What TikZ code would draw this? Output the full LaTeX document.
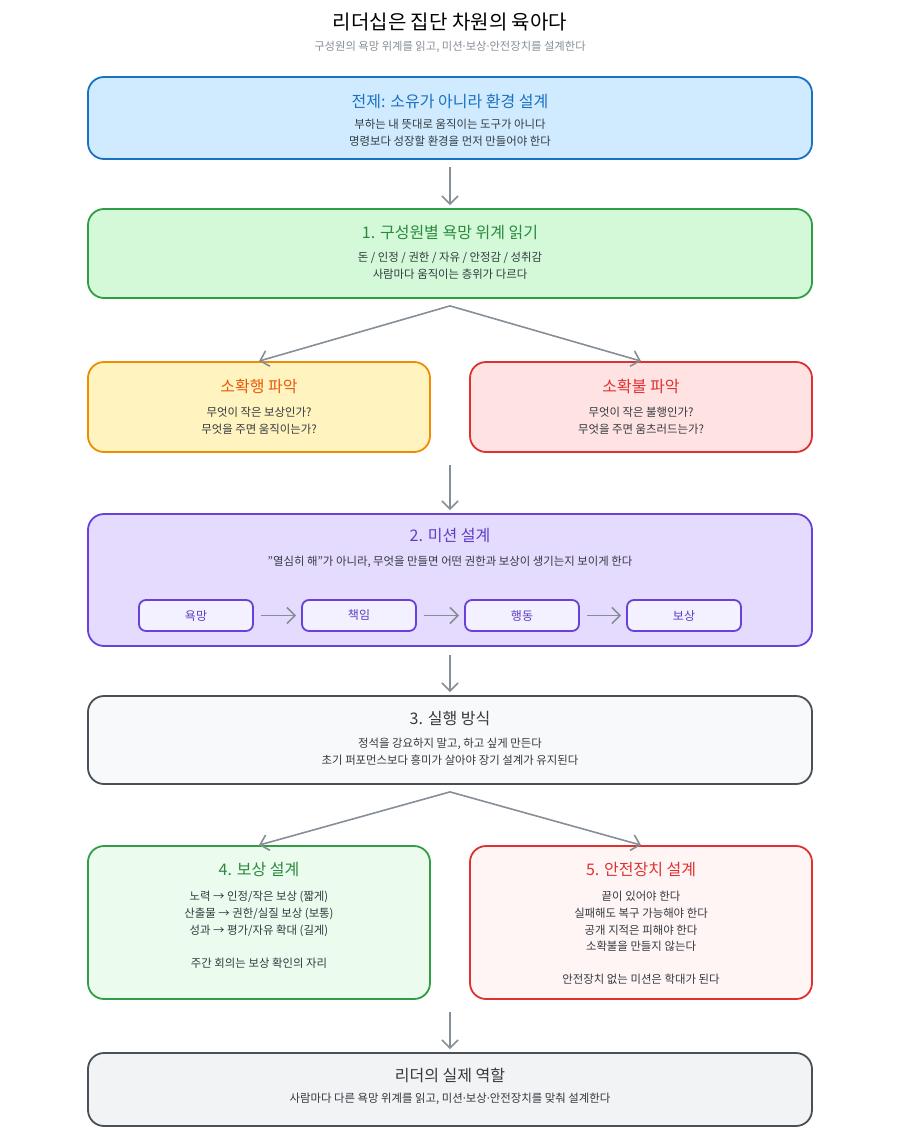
\documentclass[tikz,border=0pt]{standalone}
\usepackage{fontspec}
\setmainfont{Noto Sans CJK KR}
\newfontfamily\latf{Noto Sans}
\newcommand{\md}{{\latf ·}}
\usetikzlibrary{arrows.meta,calc}
\definecolor{txt}{HTML}{343A40}
\definecolor{sub}{HTML}{868E96}
\definecolor{arr}{HTML}{868E96}
\definecolor{blueS}{HTML}{1971C2}\definecolor{blueF}{HTML}{D0EBFF}
\definecolor{greenS}{HTML}{2F9E44}\definecolor{greenF}{HTML}{D3F9D8}\definecolor{greenT}{HTML}{2B8A3E}
\definecolor{yelS}{HTML}{F08C00}\definecolor{yelF}{HTML}{FFF3BF}\definecolor{yelT}{HTML}{E8590C}
\definecolor{redS}{HTML}{E03131}\definecolor{redF}{HTML}{FFE3E3}
\definecolor{purS}{HTML}{6741D9}\definecolor{purF}{HTML}{E5DBFF}\definecolor{purT}{HTML}{5F3DC4}\definecolor{purL}{HTML}{F3F0FF}
\definecolor{grayS}{HTML}{495057}\definecolor{grayF}{HTML}{F8F9FA}\definecolor{grayT}{HTML}{343A40}
\definecolor{lgreenF}{HTML}{EBFBEE}\definecolor{lredF}{HTML}{FFF5F5}\definecolor{finalF}{HTML}{F1F3F5}
\begin{document}
\begin{tikzpicture}[x=1pt,y=-1pt,
  box/.style={draw, line width=1.8pt, rounded corners=16pt, inner sep=0pt},
  smallbox/.style={draw=purS, fill=purL, line width=1.8pt, rounded corners=7pt, inner sep=0pt,
    minimum width=114pt, minimum height=31pt, font=\fontsize{12}{14}\selectfont, text=purT},
  ttl/.style={font=\fontsize{16}{18}\selectfont, anchor=center},
  body/.style={font=\fontsize{11.4}{16.6}\selectfont, text=txt, align=center, anchor=center},
  conn/.style={draw=arr, line width=1.6pt, -{Straight Barb[length=8pt,width=16pt,line width=1.6pt]}},
]
\useasboundingbox (0,0) rectangle (900,1137);
% title
\node[font=\fontsize{20}{22}\selectfont, text=black] (title) at (450,22) {리더십은 집단 차원의 육아다};
\node[font=\fontsize{11.3}{13}\selectfont, text=sub] (subtitle) at (450,47) {구성원의 욕망 위계를 읽고, 미션\md 보상\md 안전장치를 설계한다};

% box 0
\node[box, draw=blueS, fill=blueF, minimum width=724pt, minimum height=82pt] (b0) at (450,118) {};
\node[ttl, text=blueS] (b0t) at (450,101) {전제: 소유가 아니라 환경 설계};
\node[body] (b0b) at (450,133) {부하는 내 뜻대로 움직이는 도구가 아니다\\명령보다 성장할 환경을 먼저 만들어야 한다};

% box 1
\node[box, draw=greenS, fill=greenF, minimum width=724pt, minimum height=89pt] (b1) at (450,253.5) {};
\node[ttl, text=greenT] (b1t) at (450,233) {1. 구성원별 욕망 위계 읽기};
\node[body] (b1b) at (450,266) {돈 / 인정 / 권한 / 자유 / 안정감 / 성취감\\사람마다 움직이는 층위가 다르다};

% yellow / red
\node[box, draw=yelS, fill=yelF, minimum width=342pt, minimum height=90pt] (yel) at (259,407) {};
\node[ttl, text=yelT] (yelt) at (259,386) {소확행 파악};
\node[body] (yelb) at (259,421) {무엇이 작은 보상인가?\\무엇을 주면 움직이는가?};
\node[box, draw=redS, fill=redF, minimum width=342pt, minimum height=90pt] (red) at (641,407) {};
\node[ttl, text=redS] (redt) at (641,386) {소확불 파악};
\node[body] (redb) at (641,421) {무엇이 작은 불행인가?\\무엇을 주면 움츠러드는가?};

% box 2
\node[box, draw=purS, fill=purF, minimum width=724pt, minimum height=132pt] (b2) at (450,580) {};
\node[ttl, text=purT] (b2t) at (450,536) {2. 미션 설계};
\node[body] (b2b) at (450,562) {"열심히 해"가 아니라, 무엇을 만들면 어떤 권한과 보상이 생기는지 보이게 한다};
\node[smallbox] (s1) at (196,615.5) {욕망};
\node[smallbox] (s2) at (359,615.5) {책임};
\node[smallbox] (s3) at (522,615.5) {행동};
\node[smallbox] (s4) at (684,615.5) {보상};
\draw[conn, shorten <=7pt, shorten >=5pt] (s1) -- (s2);
\draw[conn, shorten <=7pt, shorten >=5pt] (s2) -- (s3);
\draw[conn, shorten <=7pt, shorten >=5pt] (s3) -- (s4);

% box 3
\node[box, draw=grayS, fill=grayF, minimum width=724pt, minimum height=88pt] (b3) at (450,740) {};
\node[ttl, text=grayT] (b3t) at (450,718) {3. 실행 방식};
\node[body] (b3b) at (450,752) {정석을 강요하지 말고, 하고 싶게 만든다\\초기 퍼포먼스보다 흥미가 살아야 장기 설계가 유지된다};

% box 4 / 5
\node[box, draw=greenS, fill=lgreenF, minimum width=342pt, minimum height=153pt] (b4) at (259,922.5) {};
\node[ttl, text=greenT] (b4t) at (259,869) {4. 보상 설계};
\node[body, anchor=north] (b4b) at (259,888) {노력 → 인정/작은 보상 (짧게)\\산출물 → 권한/실질 보상 (보통)\\성과 → 평가/자유 확대 (길게)\\[16.6pt]주간 회의는 보상 확인의 자리};
\node[box, draw=redS, fill=lredF, minimum width=342pt, minimum height=153pt] (b5) at (641,922.5) {};
\node[ttl, text=redS] (b5t) at (641,869) {5. 안전장치 설계};
\node[body, anchor=north] (b5b) at (641,888) {끝이 있어야 한다\\실패해도 복구 가능해야 한다\\공개 지적은 피해야 한다\\소확불을 만들지 않는다\\[16.6pt]안전장치 없는 미션은 학대가 된다};

% final
\node[box, draw=grayS, fill=finalF, minimum width=724pt, minimum height=73pt] (b6) at (450,1089.5) {};
\node[ttl, text=grayT] (b6t) at (450,1075) {리더의 실제 역할};
\node[body] (b6b) at (450,1099) {사람마다 다른 욕망 위계를 읽고, 미션\md 보상\md 안전장치를 맞춰 설계한다};

% connectors
\draw[conn, shorten <=7pt, shorten >=3pt] (b0) -- (b1);
\coordinate (fork1) at ($(b1.south)+(0,7)$);
\draw[conn] (fork1) -- (yel.north);
\draw[conn] (fork1) -- (red.north);
\coordinate (m1) at ($(yel.south)!0.5!(red.south)+(0,12)$);
\draw[conn, shorten >=3pt] (m1) -- (b2.north);
\draw[conn, shorten <=8pt, shorten >=3pt] (b2) -- (b3);
\coordinate (fork2) at ($(b3.south)+(0,7)$);
\draw[conn] (fork2) -- (b4.north);
\draw[conn] (fork2) -- (b5.north);
\coordinate (m2) at ($(b4.south)!0.5!(b5.south)+(0,12)$);
\draw[conn, shorten >=3pt] (m2) -- (b6.north);
\end{tikzpicture}
\end{document}
